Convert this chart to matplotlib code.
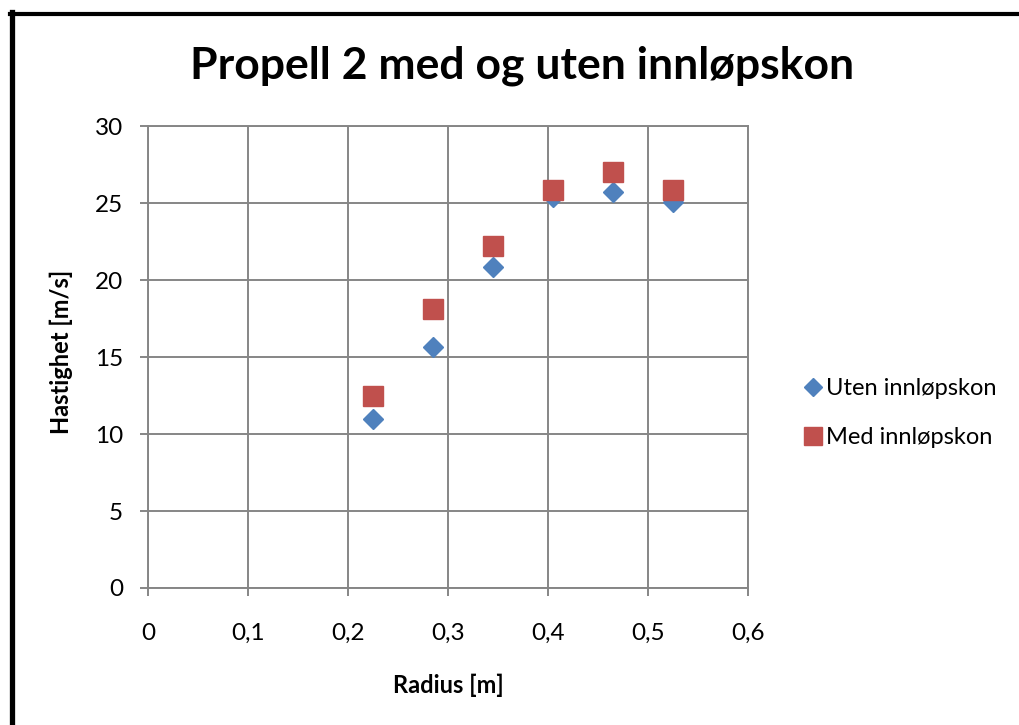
import matplotlib.pyplot as plt
from matplotlib.lines import Line2D
from matplotlib.ticker import FuncFormatter

# radius [m] and speed [m/s]
radius = [0.225, 0.285, 0.345, 0.405, 0.465, 0.525]
uten = [10.95, 15.65, 20.85, 25.4, 25.7, 25.1]
med = [12.45, 18.15, 22.2, 25.85, 27.05, 25.85]

x_ticks = [0, 0.1, 0.2, 0.3, 0.4, 0.5, 0.6]
y_ticks = [0, 5, 10, 15, 20, 25, 30]

title = "Propell 2 med og uten innløpskon"
labels = ["Uten innløpskon", "Med innløpskon"]

plt.rcParams["font.family"] = ["Lato", "DejaVu Sans"]

GRID = "#868686"
BLUE = "#4F81BD"
RED = "#C0504D"

fig = plt.figure(figsize=(10.19, 7.25), dpi=100)
ax = fig.add_axes([0.1452, 0.189, 0.5888, 0.637])

ax.plot(radius, uten, linestyle="none", marker="D", markersize=9.8,
        color=BLUE, label=labels[0])
ax.plot(radius, med, linestyle="none", marker="s", markersize=14,
        color=RED, label=labels[1])

ax.set_xlim(0, 0.6)
ax.set_ylim(0, 30)
ax.set_xticks(x_ticks)
ax.set_yticks(y_ticks)
ax.xaxis.set_major_formatter(FuncFormatter(lambda v, p: f"{v:g}".replace(".", ",")))
ax.grid(True, color=GRID, linewidth=1.4)
ax.set_axisbelow(True)
for s in ax.spines.values():
    s.set_color(GRID)
    s.set_linewidth(1.4)
ax.tick_params(axis="both", colors=GRID, length=6, width=1.4,
               labelcolor="black", labelsize=17.5)
ax.tick_params(axis="x", pad=19)
ax.tick_params(axis="y", pad=12)

ax.set_xlabel("Radius [m]", fontsize=17, fontweight="bold", va="center")
ax.set_ylabel("Hastighet [m/s]", fontsize=17, fontweight="bold", va="center")
ax.xaxis.set_label_coords(0.5, -0.21)
ax.yaxis.set_label_coords(-0.145, 0.511)

fig.text(0.512, 0.909, title, fontsize=32, fontweight="bold",
         ha="center", va="center")

ax.legend(loc="center left", bbox_to_anchor=(1.053, 0.379), frameon=False,
          fontsize=17, handletextpad=0.05, labelspacing=1.2, handlelength=1.0,
          markerscale=0.95)

# outer frame of the chart (left and top edge)
fig.add_artist(Line2D([11.5 / 1019, 11.5 / 1019], [0, 1 - 12 / 725],
                      transform=fig.transFigure, color="black", linewidth=3.8))
fig.add_artist(Line2D([9.5 / 1019, 1], [1 - 13.5 / 725, 1 - 13.5 / 725],
                      transform=fig.transFigure, color="black", linewidth=3.0))

fig.savefig("out.png", dpi=100)
